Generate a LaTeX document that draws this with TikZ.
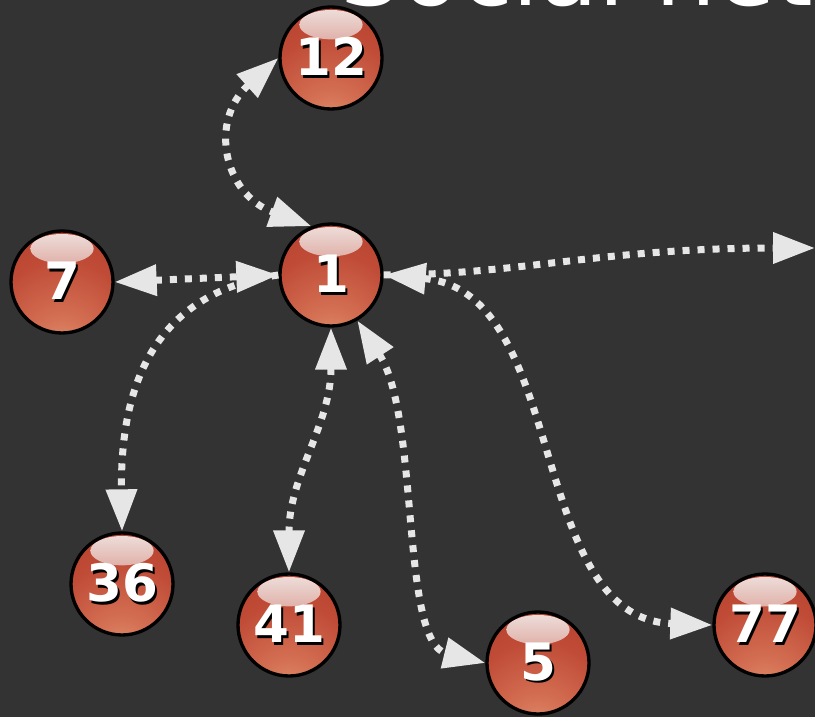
\documentclass[tikz,border=0pt]{standalone}
\usepackage{fontspec}
\setmainfont{DejaVu Sans}
\usetikzlibrary{arrows.meta}

\definecolor{bg}{HTML}{333333}
\definecolor{linkgray}{HTML}{E6E6E6}
\definecolor{ballLight}{HTML}{E49A76}
\definecolor{ballGlow}{HTML}{D47054}
\definecolor{ballMid}{HTML}{C04C37}
\definecolor{ballDark}{HTML}{B03A2A}
\definecolor{hiTop}{HTML}{EFE0DD}
\definecolor{hiBot}{HTML}{BF4E3C}

\pgfdeclareradialshading{redball}{\pgfpoint{0bp}{-38bp}}{%
  color(0bp)=(ballLight); color(15bp)=(ballGlow); color(35bp)=(ballMid);
  color(58bp)=(ballDark); color(100bp)=(ballDark)}

% white number with a black drop shadow
\newcommand\ballnum[1]{\makebox[0pt][l]{\raisebox{-2.3pt}{\hspace{2.3pt}\color{black}#1}}#1}

\tikzset{
  ball/.style={circle, draw=black, line width=0.1cm, minimum size=3.06cm, inner sep=0pt,
    shade, shading=redball, text=white, font=\fontsize{44}{44}\selectfont\bfseries,
    path picture={\shade[top color=hiTop, bottom color=hiBot]
      ([yshift=1.0cm]path picture bounding box.center) ellipse [x radius=0.95cm, y radius=0.44cm];}},
  link/.style={draw=linkgray, line width=0.21cm, dash pattern=on 0.21cm off 0.24cm,
    >={Triangle[length=1.26cm,width=0.9cm]}, <->},
  title/.style={text=white, font=\fontsize{82}{82}\selectfont, inner sep=0pt}
}

\begin{document}
\begin{tikzpicture}[x=0.03cm,y=0.03cm]

      % background
      \path[fill=bg, use as bounding box] (0,0) rectangle (815,717);
      \clip (0,0) rectangle (815,717);

      % title, cut by the top and right edges
      \node[title, anchor=base west] (title) at (340,711) {Social net};

      % draw nodes
      \foreach \n/\x/\y in {1/331/442, 12/331/659, 7/62/435, 36/122/133, 41/289/92, 5/538/54, 77/765/92}
      \node[ball] (n\n) at (\x,\y) {\ballnum{\n}};

      \coordinate (offright) at (815,469);

      % draw links
      \draw[link] (n7.east) -- (n1.west);
      \draw[link] (n12.west) to[out=222, in=160, looseness=1.4] (n1.112);
      \draw[link, ->] (n1.west) .. controls (160,425) and (120,340) .. (n36.north);
      \draw[link] (n1.south) to[out=-90, in=90] (n41.north);
      \draw[link] (n1.-60) .. controls (420,300) and (400,75) .. (n5.west);
      \draw[link] (n1.east) to[out=-5, in=178] (n77.west);
      \draw[link, ->] (n1.east) .. controls (520,442) and (600,469) .. (offright);

     \end{tikzpicture}
\end{document}
